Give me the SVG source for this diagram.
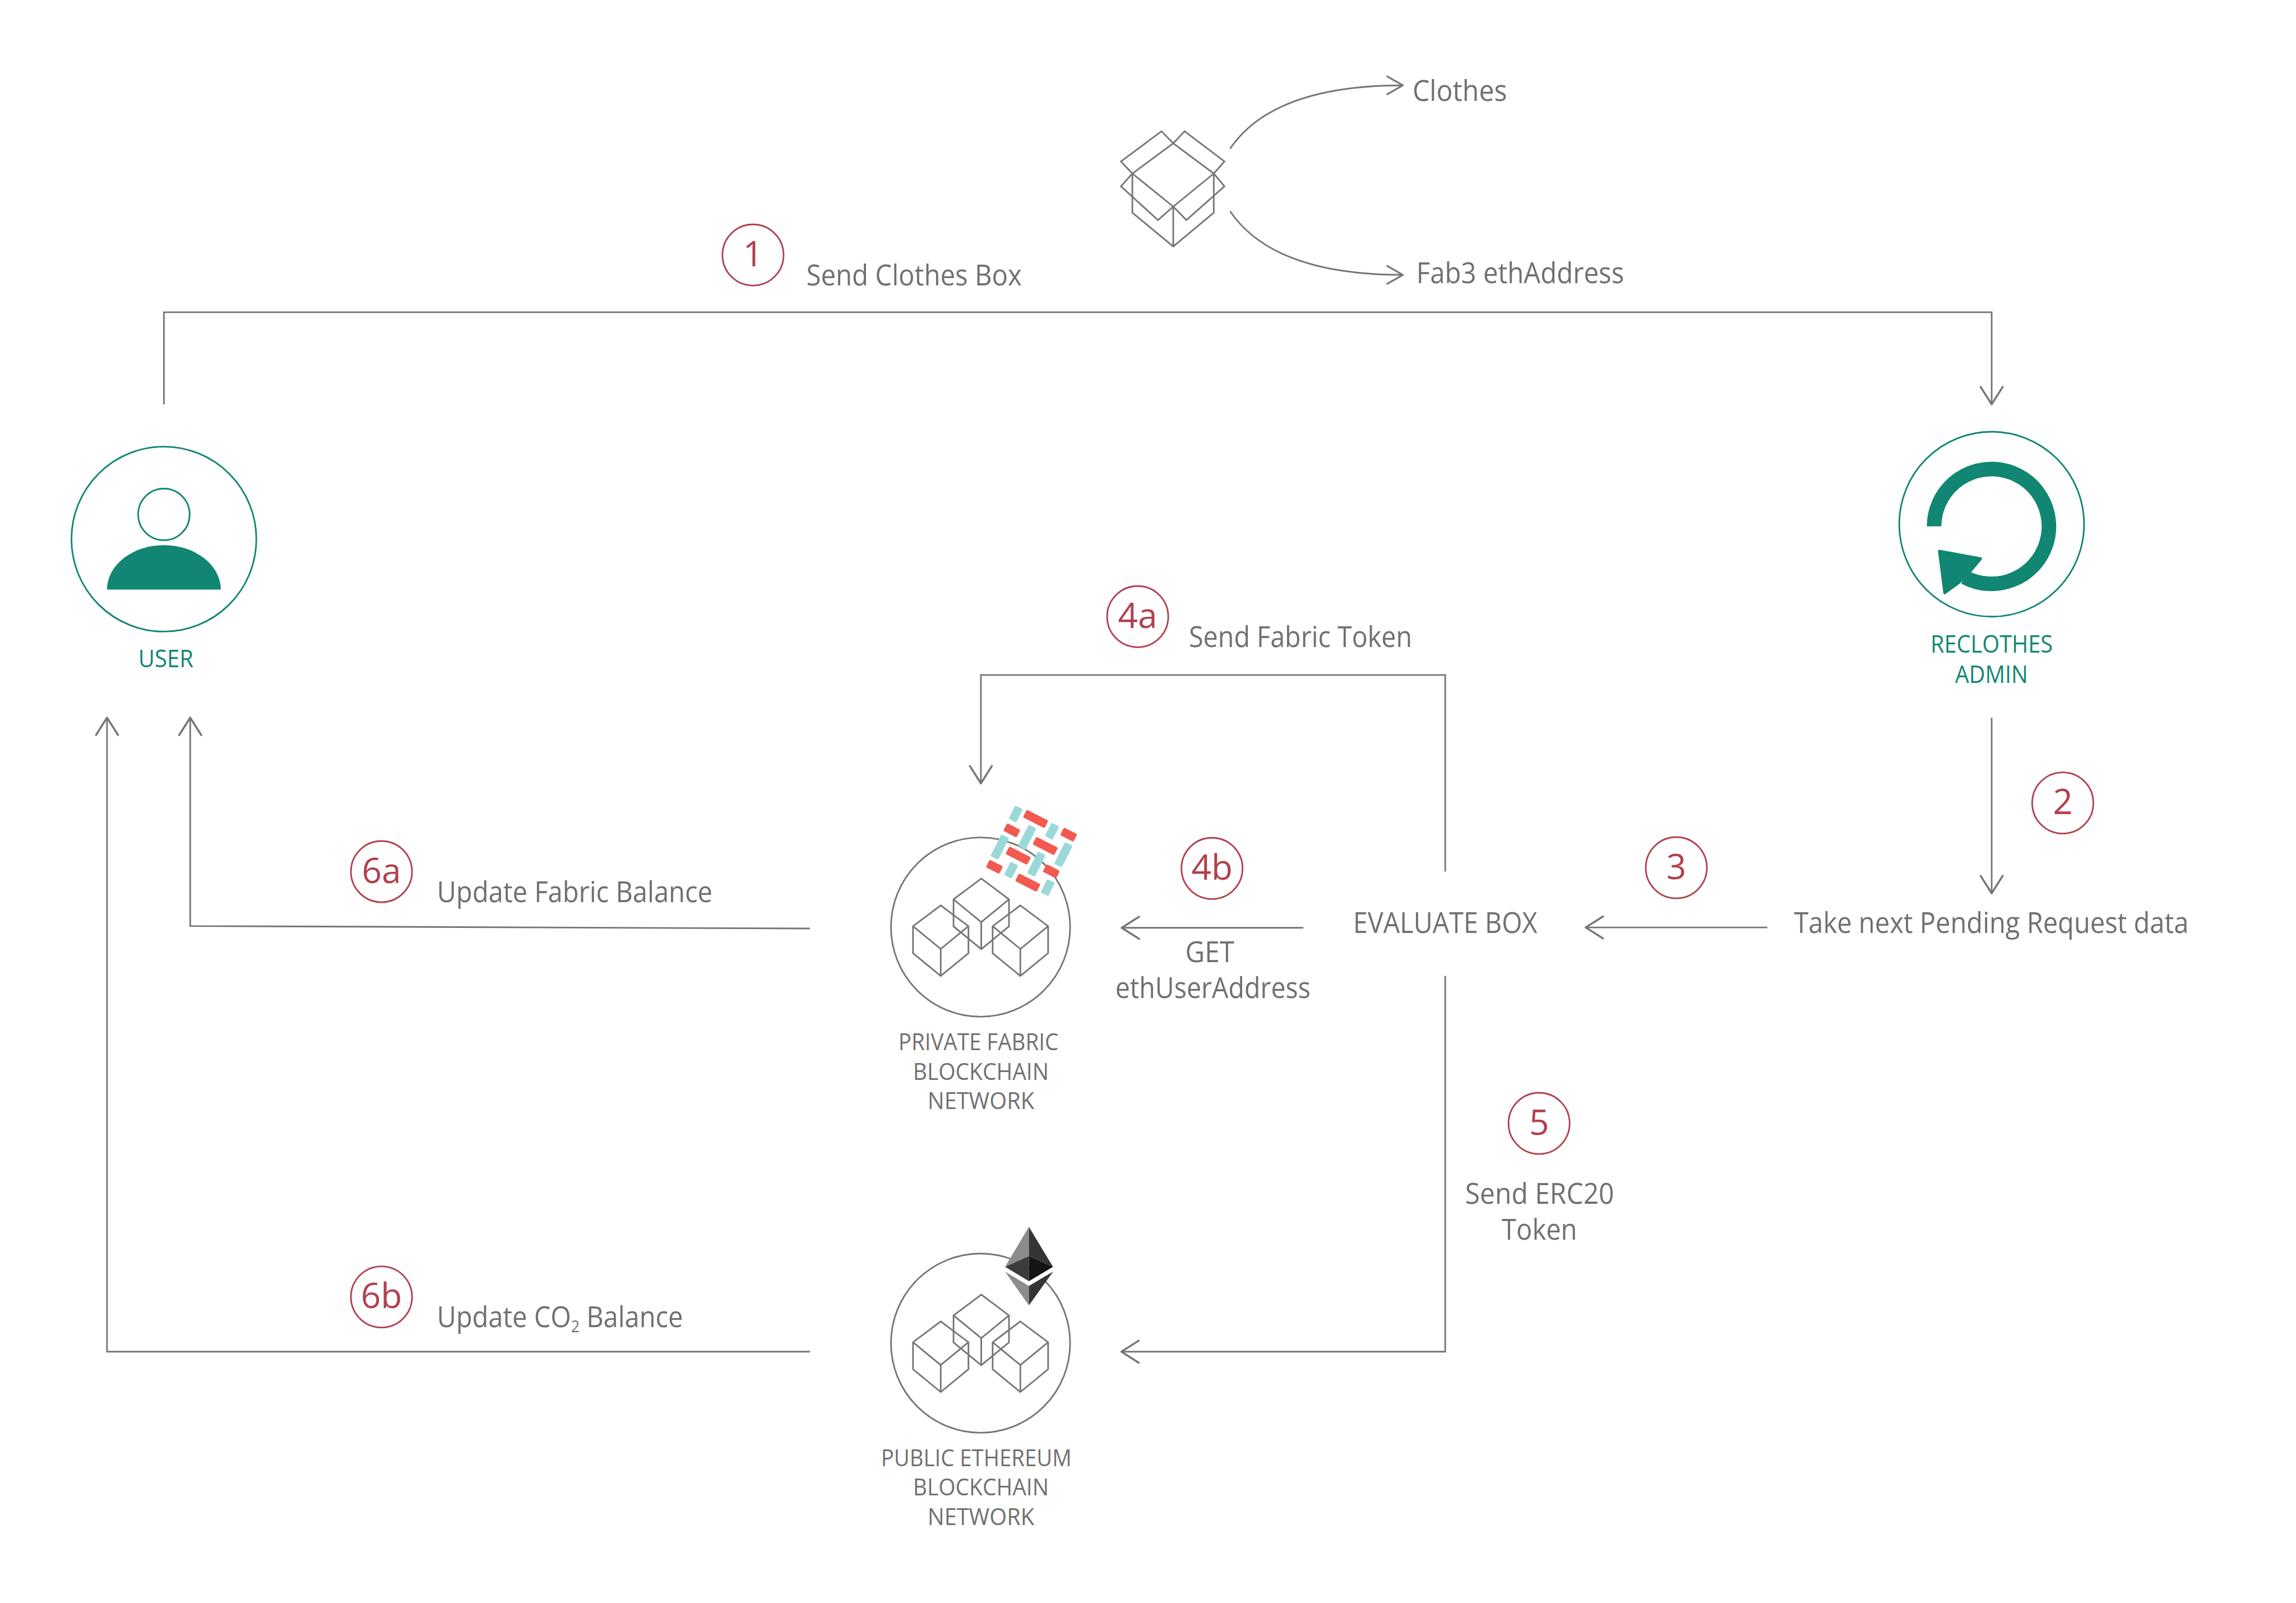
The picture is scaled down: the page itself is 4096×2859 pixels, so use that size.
<svg xmlns="http://www.w3.org/2000/svg" xmlns:xlink="http://www.w3.org/1999/xlink" width="4096" height="2859" viewBox="0 0 4096 2859">
<style>
text{font-family:"Open Sans","Noto Sans","Liberation Sans",sans-serif;fill:#707070;font-size:81px}
.g{fill:none;stroke:#747575;stroke-width:4.5}
.c{fill:none;stroke:#747575;stroke-width:4.5;stroke-linejoin:miter}
.num{fill:none;stroke:#b2404d;stroke-width:4.5}
.d{fill:#b2404d;font-size:98px;text-anchor:middle}
.sm{font-size:67px}
.t{fill:#118672;font-size:68px}
.ts{fill:none;stroke:#118672;stroke-width:4.5}
.b{fill:#9bd9d8}.r{fill:#f2594f}
</style>
<defs>
<marker id="ah" markerUnits="userSpaceOnUse" orient="auto" overflow="visible" markerWidth="60" markerHeight="70" refX="0" refY="0"><path d="M-49,-31L0,0L-49,31" fill="none" stroke="#747575" stroke-width="5.5" stroke-linejoin="round" stroke-linecap="round"/></marker>
<marker id="as" markerUnits="userSpaceOnUse" orient="auto" overflow="visible" markerWidth="60" markerHeight="70" refX="0" refY="0"><path d="M-44,-25L0,0L-44,25" fill="none" stroke="#747575" stroke-width="5" stroke-linejoin="round" stroke-linecap="round"/></marker>
<g id="cube"><path class="c" d="M0,0L78,58.5L78,134.5L0,198.5L-78,134.5L-78,58.5Z"/><path class="c" d="M-78,58.5L0,122.5L78,58.5M0,122.5V198.5"/></g>
<g id="cubes"><circle class="g" cx="2758" cy="2607" r="252"/><use href="#cube" x="2760" y="2470.5"/><use href="#cube" x="2646" y="2546"/><use href="#cube" x="2870" y="2546"/></g>
<rect id="rl" x="-34" y="-12" width="68" height="24" rx="4"/>
<rect id="rs" x="-21" y="-12" width="42" height="24" rx="4"/>
</defs>
<g transform="scale(.63425)">
<g id="connectors">
<path class="g" d="M461,1137V878H5602V1137" marker-end="url(#ah)"/>
<path class="g" d="M5602,2018V2512" marker-end="url(#ah)"/>
<path class="g" d="M4971,2608H4460" marker-end="url(#ah)"/>
<path class="g" d="M3666,2609H3155" marker-end="url(#ah)"/>
<path class="g" d="M4065,2451V1898H2759V2203" marker-end="url(#ah)"/>
<path class="g" d="M4065,2744V3801H3154" marker-end="url(#ah)"/>
<path class="g" d="M2278,2611L535,2604V2018" marker-end="url(#ah)"/>
<path class="g" d="M2278,3801H301V2018" marker-end="url(#ah)"/>
<path class="g" d="M3460,418C3540,300 3700,240 3946,240" marker-end="url(#as)"/>
<path class="g" d="M3460,594C3540,712 3700,773 3946,773" marker-end="url(#as)"/>
</g>
<g id="box">
<path class="c" d="M3300,403L3267,369L3153,454L3185,488L3300,403L3332,369L3444,454L3414,488L3300,403"/>
<path class="c" d="M3185,488L3300,581L3414,488M3185,488L3153,524L3257,619L3300,581L3337,619L3444,524L3414,488"/>
<path class="c" d="M3185,488V598L3300,693L3414,598V488M3300,581V693"/>
<text x="3973" y="284" textLength="266" lengthAdjust="spacingAndGlyphs">Clothes</text>
<text x="3984" y="797" textLength="584" lengthAdjust="spacingAndGlyphs">Fab3 ethAddress</text>
</g>
<g id="step1"><circle class="num" cx="2118" cy="717" r="86"/><text class="d" x="2118" y="749">1</text><text x="2268" y="803" textLength="606" lengthAdjust="spacingAndGlyphs">Send Clothes Box</text></g>
<g id="user">
<circle class="ts" cx="461" cy="1516" r="260"/><circle class="ts" cx="461" cy="1446.5" r="72.5"/>
<path fill="#118672" d="M301,1658A160,125 0 0 1 621,1658Z"/>
<text class="t" x="389" y="1877" textLength="155" lengthAdjust="spacingAndGlyphs">USER</text>
</g>
<g id="admin">
<circle class="ts" cx="5602" cy="1474" r="260"/>
<path fill="none" stroke="#118672" stroke-width="41" d="M5440.1,1480A161.5,161.5 0 1 1 5526,1623"/>
<path fill="#118672" stroke="#118672" stroke-width="8" stroke-linejoin="round" d="M5455,1550L5571,1571L5541,1607L5510,1638L5470,1667Z"/>
<text class="t" x="5430" y="1835" textLength="344" lengthAdjust="spacingAndGlyphs">RECLOTHES</text>
<text class="t" x="5499" y="1920" textLength="205" lengthAdjust="spacingAndGlyphs">ADMIN</text>
</g>
<g id="step2"><circle class="num" cx="5802" cy="2258" r="86"/><text class="d" x="5802" y="2289">2</text><text x="5046" y="2624" textLength="1110" lengthAdjust="spacingAndGlyphs">Take next Pending Request data</text></g>
<g id="step3"><circle class="num" cx="4715" cy="2440" r="86"/><text class="d" x="4715" y="2472">3</text></g>
<g id="evaluate"><text x="3806" y="2624" textLength="518" lengthAdjust="spacingAndGlyphs">EVALUATE BOX</text></g>
<g id="step4a"><circle class="num" cx="3200" cy="1734" r="86"/><text class="d" x="3200" y="1766">4a</text><text x="3344" y="1820" textLength="628" lengthAdjust="spacingAndGlyphs">Send Fabric Token</text></g>
<g id="step4b"><circle class="num" cx="3409" cy="2442" r="86"/><text class="d" x="3409" y="2474">4b</text><text x="3334" y="2706" textLength="138" lengthAdjust="spacingAndGlyphs">GET</text><text x="3137" y="2806" textLength="549" lengthAdjust="spacingAndGlyphs">ethUserAddress</text></g>
<g id="step5"><circle class="num" cx="4329" cy="3159" r="86"/><text class="d" x="4329" y="3191">5</text><text x="4121" y="3385" textLength="419" lengthAdjust="spacingAndGlyphs">Send ERC20</text><text x="4224" y="3486" textLength="212" lengthAdjust="spacingAndGlyphs">Token</text></g>
<g id="step6a"><circle class="num" cx="1073" cy="2451" r="86"/><text class="d" x="1073" y="2483">6a</text><text x="1229" y="2537" textLength="775" lengthAdjust="spacingAndGlyphs">Update Fabric Balance</text></g>
<g id="step6b"><circle class="num" cx="1073" cy="3647" r="86"/><text class="d" x="1073" y="3678">6b</text><text x="1229" y="3732" textLength="692" lengthAdjust="spacingAndGlyphs">Update CO<tspan font-size="46" dy="14">2</tspan><tspan dy="-14"> Balance</tspan></text></g>
<g id="fabric">
<use href="#cubes"/>
<use href="#rs" class="b" transform="translate(2857,2289) rotate(117)"/>
<use href="#rs" class="b" transform="translate(2959,2337.5) rotate(117)"/>
<use href="#rl" class="b" transform="translate(2889,2354.5) rotate(117)"/>
<use href="#rl" class="b" transform="translate(2812,2382) rotate(117)"/>
<use href="#rl" class="b" transform="translate(2991,2403.6) rotate(117)"/>
<use href="#rl" class="b" transform="translate(2915,2430) rotate(117)"/>
<use href="#rs" class="b" transform="translate(2844,2447) rotate(117)"/>
<use href="#rs" class="b" transform="translate(2947,2496) rotate(117)"/>
<use href="#rl" class="r" transform="translate(2913,2303) rotate(27)"/>
<use href="#rs" class="r" transform="translate(2846,2335) rotate(27)"/>
<use href="#rs" class="r" transform="translate(3006,2347) rotate(27)"/>
<use href="#rl" class="r" transform="translate(2940,2379) rotate(27)"/>
<use href="#rl" class="r" transform="translate(2864,2406) rotate(27)"/>
<use href="#rs" class="r" transform="translate(2797,2437.5) rotate(27)"/>
<use href="#rs" class="r" transform="translate(2957,2450) rotate(27)"/>
<use href="#rl" class="r" transform="translate(2891,2482) rotate(27)"/>
<text class="sm" x="2527" y="2953" textLength="450" lengthAdjust="spacingAndGlyphs">PRIVATE FABRIC</text>
<text class="sm" x="2568" y="3036" textLength="382" lengthAdjust="spacingAndGlyphs">BLOCKCHAIN</text>
<text class="sm" x="2609" y="3118" textLength="300" lengthAdjust="spacingAndGlyphs">NETWORK</text>
</g>
<g id="ethereum">
<use href="#cubes" y="1170"/>
<path fill="#8c8c8c" d="M2894,3450L2827,3562.5L2894,3532Z"/>
<path fill="#343434" d="M2894,3450L2962,3562.5L2894,3532Z"/>
<path fill="#3c3c3b" d="M2894,3532L2827,3562.5L2894,3603Z"/>
<path fill="#141414" d="M2894,3532L2962,3562.5L2894,3603Z"/>
<path fill="#fff" d="M2827,3562.5L2894,3603L2962,3562.5V3576L2894,3616L2827,3576Z"/>
<path fill="#8c8c8c" d="M2827,3576L2894,3616V3671Z"/>
<path fill="#343434" d="M2962,3576L2894,3616V3671Z"/>
<text class="sm" x="2478" y="4123" textLength="536" lengthAdjust="spacingAndGlyphs">PUBLIC ETHEREUM</text>
<text class="sm" x="2568" y="4205" textLength="382" lengthAdjust="spacingAndGlyphs">BLOCKCHAIN</text>
<text class="sm" x="2609" y="4288" textLength="300" lengthAdjust="spacingAndGlyphs">NETWORK</text>
</g>
</g>
</svg>
